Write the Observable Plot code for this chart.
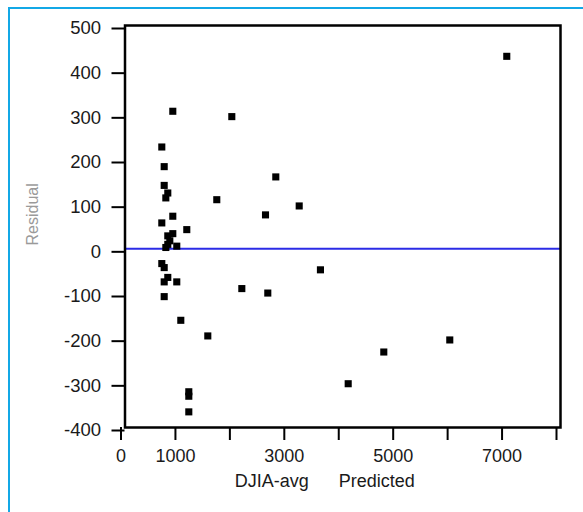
<!DOCTYPE html>
<html>
<head>
<meta charset="utf-8">
<script src="https://cdn.jsdelivr.net/npm/d3@7"></script>
<script src="https://cdn.jsdelivr.net/npm/@observablehq/plot@0.6"></script>
<style>
  html, body { margin: 0; padding: 0; background: #fff; }
  #wrap { position: relative; width: 583px; height: 512px; overflow: hidden; }
  #frameTop { position: absolute; left: 8px; top: 7px; width: 600px; height: 2px; background: #13a8e6; }
  #frameLeft { position: absolute; left: 8px; top: 7px; width: 2px; height: 520px; background: #13a8e6; }
  #chart { position: absolute; left: 0; top: 0; }
  #chart svg text { font-family: "Liberation Sans", Arial, sans-serif; }
  #chart svg g[aria-label$="tick"] { stroke-width: 2px; stroke: #000; }
  #chart svg [aria-label="frame"] { stroke-width: 2.5px; }
</style>
</head>
<body>
<div id="wrap">
  <div id="chart"></div>
  <div id="frameTop"></div>
  <div id="frameLeft"></div>
</div>
<script>
// Predicted DJIA average (x) and residual (y)
const predicted = [878, 1962, 676, 720, 2770, 720, 786, 750, 1686, 3200,
  2581, 878, 676, 1135, 878, 786, 823, 786, 750, 951,
  676, 720, 786, 720, 951, 720, 2146, 2623, 1025, 1521,
  1172, 1172, 1172, 3590, 5966, 4754, 4100, 7013];
const residual = [308, 296, 228, 184, 161, 142, 125, 114, 110, 96,
  76, 73, 58, 43, 34, 29, 18, 10, 3, 6,
  -33, -42, -64, -74, -74, -107, -89, -99, -160, -195,
  -320, -330, -365, -47, -204, -231, -302, 431];

const xTicks = [0, 1000, 2000, 3000, 4000, 5000, 6000, 7000, 8000];
const xLabeled = [0, 1000, 3000, 5000, 7000];
const yTicks = [-400, -300, -200, -100, 0, 100, 200, 300, 400, 500];
const xTitle = "DJIA-avg\u00a0\u00a0\u00a0\u00a0\u00a0\u00a0Predicted";
const yTitle = "Residual";

const data = predicted.map((p, i) => ({predicted: p, residual: residual[i]}));

const chart = Plot.plot({
  width: 583,
  height: 512,
  marginLeft: 124.5,
  marginRight: 23,
  marginTop: 25,
  marginBottom: 85,
  style: {fontFamily: "Liberation Sans, Arial, sans-serif", fontSize: "18px", color: "#1a1a1a", background: "transparent"},
  x: {domain: [0, 8000]},
  y: {domain: [-400, 500]},
  marks: [
    Plot.ruleY([0], {stroke: "#2b2be6", strokeWidth: 2}),
    Plot.dot(data, {x: "predicted", y: "residual", symbol: "square", r: 4, fill: "black", stroke: "none"}),
    Plot.frame({stroke: "black", strokeWidth: 2.5}),
    Plot.axisY({ticks: yTicks, tickSize: 13, tickPadding: 11, strokeWidth: 2, stroke: "black", dy: 3, fontSize: 18.5, label: null, tickFormat: d => String(d)}),
    Plot.axisX({ticks: xTicks, tickSize: 13, tickPadding: 9, strokeWidth: 2, stroke: "black", dx: -4, fontSize: 18, label: null,
      tickFormat: d => xLabeled.includes(d) ? String(d) : ""}),
    Plot.text([xTitle], {frameAnchor: "bottom", dy: 59, dx: -18, fontSize: 18, fill: "#1a1a1a"}),
    Plot.text([yTitle], {frameAnchor: "left", dx: -92, dy: 19, rotate: -90, fontSize: 16, fill: "#9a9a9a"})
  ]
});
document.getElementById("chart").appendChild(chart);
</script>
</body>
</html>
